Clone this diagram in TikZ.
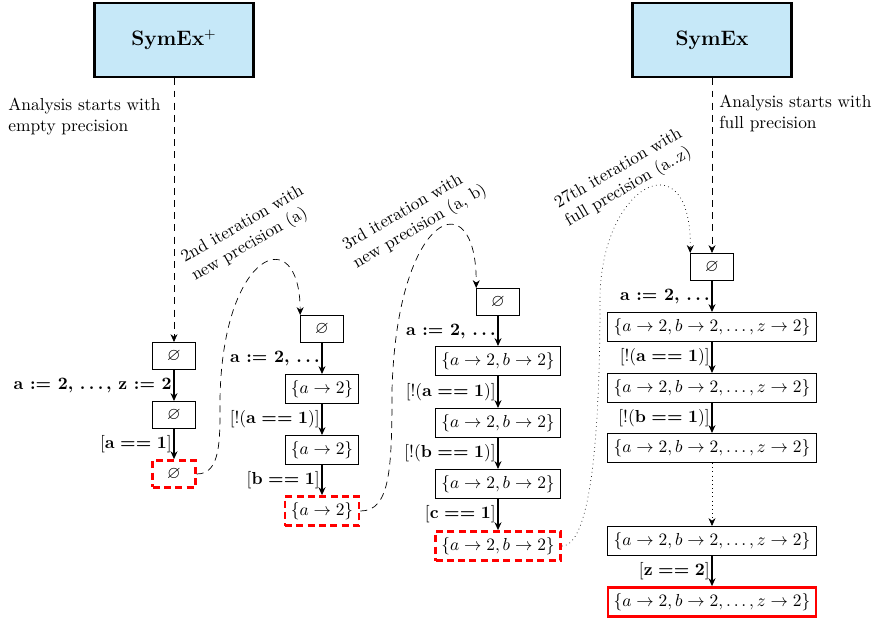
\documentclass[tikz,border=0pt]{standalone}
\usepackage{amssymb}
\usetikzlibrary{arrows.meta, calc}
\definecolor{fondoHerr}{HTML}{C6E8F8}
\definecolor{rojoCorte}{HTML}{FF0000}
\newcommand{\cnd}[2]{[{\boldmath$\mathbf{#1}==\mathbf{#2}$}]}
\newcommand{\ncnd}[2]{[!({\boldmath$\mathbf{#1}==\mathbf{#2}$})]}
\newcommand{\bdots}{{\boldmath$\ldots$}}

\begin{document}
\begin{tikzpicture}[x=0.575pt, y=-0.575pt, >={Stealth[length=4.5pt,width=4pt]},
        tool/.style={draw, ultra thick, fill=fondoHerr, minimum width=91pt,
            minimum height=42.5pt, font=\large\bfseries},
        st/.style={draw, semithick, minimum width=24.5pt, minimum height=15.5pt},
        fail/.style={st, draw=rojoCorte, ultra thick, dash pattern=on 4pt off 2.5pt},
        done/.style={st, draw=rojoCorte, ultra thick},
        flow/.style={->, semithick},
        cond/.style={left, inner sep=1pt},
        iter/.style={->, dash pattern=on 4pt off 3pt},
        iterlast/.style={->, dotted},
        note/.style={align=left, anchor=north west, inner sep=0pt},
        turn/.style={align=left, rotate=30, inner sep=0pt}]
        \useasboundingbox (0,0) rectangle (875,618);
        % analysis tools
        \node[tool] (sx1) at (174,40) {SymEx$^{+}$};
        \node[tool] (sx2) at (712,40) {SymEx};
        \node[note] (n1) at (8,98)   {Analysis starts with\\empty precision};
        \node[note] (n2) at (719,95) {Analysis starts with\\full precision};
        % 1st iteration
        \node[st]   (a0) at (174,356) {$\varnothing$};
        \node[st]   (a1) at (174,415) {$\varnothing$};
        \node[fail] (a2) at (174,474) {$\varnothing$};
        % 2nd iteration
        \node[st]   (b0) at (322,329) {$\varnothing$};
        \node[st]   (b1) at (322,389) {$\{a \to 2\}$};
        \node[st]   (b2) at (322,450) {$\{a \to 2\}$};
        \node[fail] (b3) at (322,511) {$\{a \to 2\}$};
        % 3rd iteration
        \node[st]   (c0) at (498,302) {$\varnothing$};
        \node[st]   (c1) at (498,361) {$\{a \to 2, b \to 2\}$};
        \node[st]   (c2) at (498,423) {$\{a \to 2, b \to 2\}$};
        \node[st]   (c3) at (498,484) {$\{a \to 2, b \to 2\}$};
        \node[fail] (c4) at (498,546) {$\{a \to 2, b \to 2\}$};
        % full precision
        \node[st]   (d0) at (712,267) {$\varnothing$};
        \node[st]   (d1) at (712,327) {$\{a \to 2, b \to 2, \ldots, z \to 2\}$};
        \node[st]   (d2) at (712,388) {$\{a \to 2, b \to 2, \ldots, z \to 2\}$};
        \node[st]   (d3) at (712,448) {$\{a \to 2, b \to 2, \ldots, z \to 2\}$};
        \node[st]   (d4) at (712,541) {$\{a \to 2, b \to 2, \ldots, z \to 2\}$};
        \node[done] (d5) at (712,602) {$\{a \to 2, b \to 2, \ldots, z \to 2\}$};

        \draw[iter] (sx1) -- (a0);
        \draw[iter] (sx2) -- (d0);
        \draw[flow] (a0) -- node[cond]{\textbf{a := 2, \bdots\,, z := 2}} (a1);
        \draw[flow] (a1) -- node[cond]{\cnd{a}{1}} (a2);
        \draw[flow] (b0) -- node[cond]{\textbf{a := 2, \bdots}} (b1);
        \draw[flow] (b1) -- node[cond]{\ncnd{a}{1}} (b2);
        \draw[flow] (b2) -- node[cond]{\cnd{b}{1}} (b3);
        \draw[flow] (c0) -- node[cond]{\textbf{a := 2, \bdots}} (c1);
        \draw[flow] (c1) -- node[cond]{\ncnd{a}{1}} (c2);
        \draw[flow] (c2) -- node[cond]{\ncnd{b}{1}} (c3);
        \draw[flow] (c3) -- node[cond]{\cnd{c}{1}} (c4);
        \draw[flow] (d0) -- node[cond]{\textbf{a := 2, \bdots}} (d1);
        \draw[flow] (d1) -- node[cond]{\ncnd{a}{1}} (d2);
        \draw[flow] (d2) -- node[cond]{\ncnd{b}{1}} (d3);
        \draw[->, thin, dotted] (d3) -- (d4);
        \draw[flow] (d4) -- node[cond]{\cnd{z}{2}} (d5);

        % refinement loops
        \draw[iter] (a2.east) .. controls (221,474) and (220,440) .. (220,400)
            .. controls (222,250) and (300,220) .. (b0.north west);
        \draw[iter] (b3.east) .. controls (390,511) and (392,470) .. (392,390)
            .. controls (397,210) and (477,180) .. (c0.north west);
        \draw[iterlast] (c4.east) .. controls (595,546) and (600,400) .. (600,300)
            .. controls (600,184) and (692,137) .. (d0.north west);
        \node[turn] (it2)  at (248,234) {2nd iteration with\\new precision (a)};
        \node[turn] (it3)  at (415,218) {3rd iteration with\\new precision (a, b)};
        \node[turn] (it27) at (624,178) {27th iteration with\\full precision (a..z)};
    \end{tikzpicture}
\end{document}
